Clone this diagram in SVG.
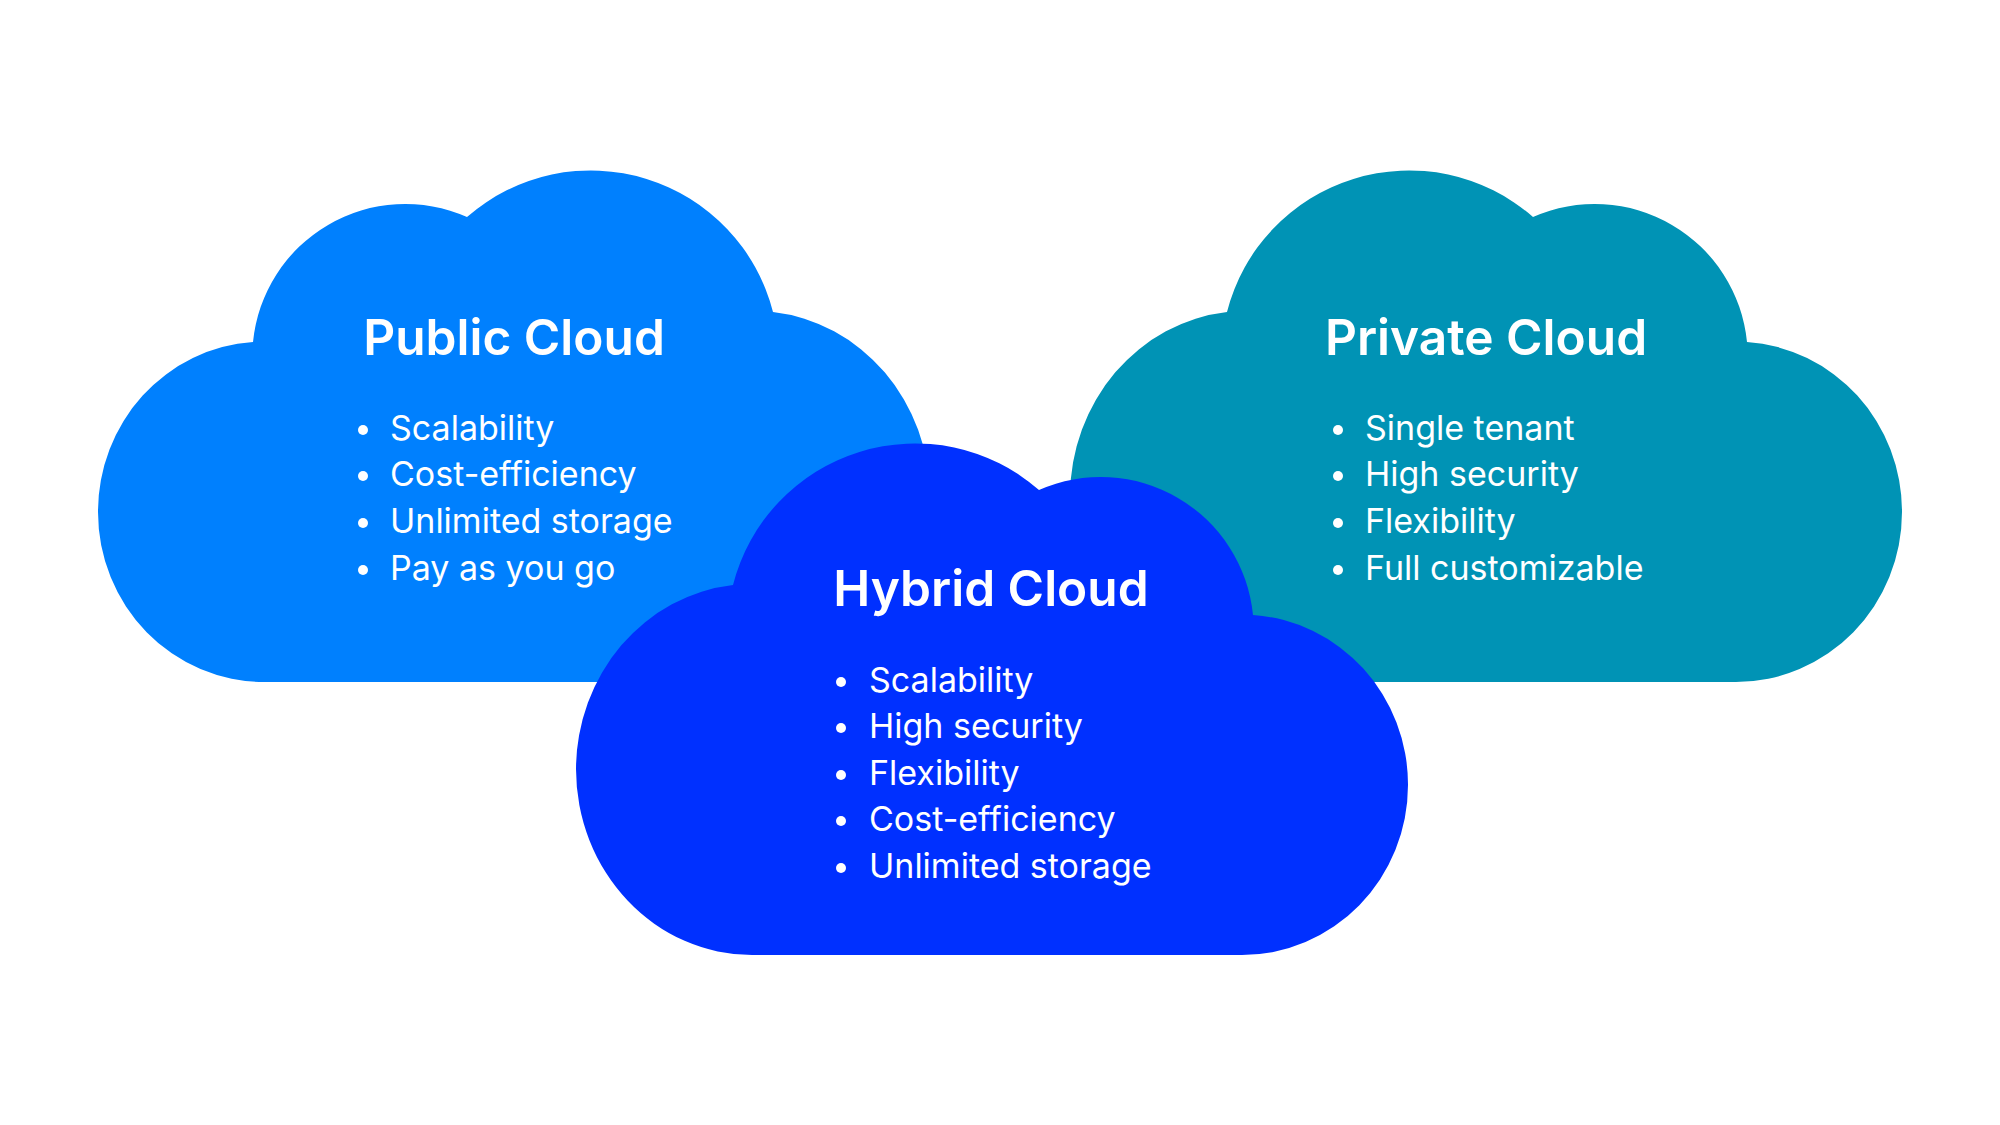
<svg xmlns="http://www.w3.org/2000/svg" width="2000" height="1125" viewBox="0 0 2000 1125">
  <style>
    .title { font-family: Inter, "Noto Sans", "Liberation Sans", sans-serif; font-size: 49.6px; font-weight: 600; fill: #ffffff; text-anchor: middle; }
    .item { font-family: Inter, "Noto Sans", "Liberation Sans", sans-serif; font-size: 34px; font-weight: 400; fill: #ffffff; }
    .dot { fill: #ffffff; }
  </style>
  <defs>
    <path id="cloud" d="M 1246 682 A 176 186 0 0 1 1070 496 A 176 186 0 0 1 1227 312 A 188 188 0 0 1 1533 217 A 153 153 0 0 1 1747 342 A 166 170 0 0 1 1902 512 A 166 170 0 0 1 1736 682 Z"/>
  </defs>
  <rect width="2000" height="1125" fill="#ffffff"/>

  <g id="public-cloud">
    <use href="#cloud" transform="translate(2000 0) scale(-1 1)" fill="#0080FE"/>
    <text class="title" x="514" y="355">Public Cloud</text>
    <circle class="dot" cx="363" cy="430" r="5"/>
    <text class="item" x="390" y="440">Scalability</text>
    <circle class="dot" cx="363" cy="476" r="5"/>
    <text class="item" x="390" y="486">Cost-efficiency</text>
    <circle class="dot" cx="363" cy="523" r="5"/>
    <text class="item" x="390" y="533">Unlimited storage</text>
    <circle class="dot" cx="363" cy="570" r="5"/>
    <text class="item" x="390" y="580">Pay as you go</text>
  </g>

  <g id="private-cloud">
    <use href="#cloud" fill="#0093B5"/>
    <text class="title" x="1486" y="355">Private Cloud</text>
    <circle class="dot" cx="1338" cy="430" r="5"/>
    <text class="item" x="1365" y="440">Single tenant</text>
    <circle class="dot" cx="1338" cy="476" r="5"/>
    <text class="item" x="1365" y="486">High security</text>
    <circle class="dot" cx="1338" cy="523" r="5"/>
    <text class="item" x="1365" y="533">Flexibility</text>
    <circle class="dot" cx="1338" cy="570" r="5"/>
    <text class="item" x="1365" y="580">Full customizable</text>
  </g>

  <g id="hybrid-cloud">
    <use href="#cloud" transform="translate(-494 273)" fill="#0030FF"/>
    <text class="title" x="991" y="606">Hybrid Cloud</text>
    <circle class="dot" cx="841" cy="682" r="5"/>
    <text class="item" x="869" y="692">Scalability</text>
    <circle class="dot" cx="841" cy="728" r="5"/>
    <text class="item" x="869" y="738">High security</text>
    <circle class="dot" cx="841" cy="775" r="5"/>
    <text class="item" x="869" y="785">Flexibility</text>
    <circle class="dot" cx="841" cy="821" r="5"/>
    <text class="item" x="869" y="831">Cost-efficiency</text>
    <circle class="dot" cx="841" cy="868" r="5"/>
    <text class="item" x="869" y="878">Unlimited storage</text>
  </g>

  <g id="connectors"/>
</svg>
